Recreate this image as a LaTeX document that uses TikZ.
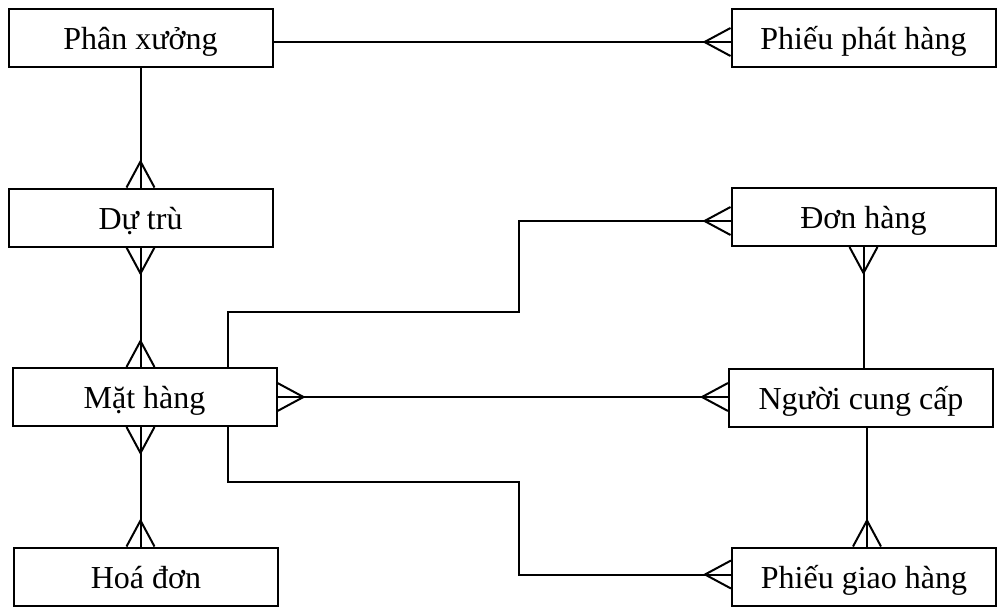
\documentclass[tikz,border=0pt]{standalone}
\usepackage{fontspec}
\setmainfont{Liberation Serif}
\usetikzlibrary{positioning}

\begin{document}
\begin{tikzpicture}[x=0.5pt, y=0.5pt, line width=1pt]
% Define styles
\tikzstyle{entity}=[rectangle, draw, minimum width=132pt, minimum height=29pt, inner sep=0pt, text height=12pt, text depth=0.5pt, font=\fontsize{16}{18}\selectfont]
\tikzset{crowfoot/.pic={\draw (0,-14) -- (26,0) -- (0,14);}}

\useasboundingbox (0,0) rectangle (1001,607);

% Entities, left column
\node[entity] (phanxuong) at (140.5,569) {Phân xưởng};
\node[entity] (dutru) at (140.5,389.5) {Dự trù};
\node[entity] (mathang) at (144.5,210) {Mặt hàng};
\node[entity] (hoadon) at (146,30.5) {Hoá đơn};

% Entities, right column
\node[entity] (phieuphat) at (863.5,569) {Phiếu phát hàng};
\node[entity] (donhang) at (863.5,390) {Đơn hàng};
\node[entity] (nguoicc) at (861,209.5) {Người cung cấp};
\node[entity] (phieugiao) at (864,30.5) {Phiếu giao hàng};

% Bend points
\coordinate (bendup) at (519,295);
\coordinate (benddown) at (519,125);

% Relationships
\draw ([yshift=-2pt]phanxuong.east) -- ([yshift=-2pt]phieuphat.west);
\draw (phanxuong.south) -- (dutru.north);
\draw (dutru.south) -- (dutru.south |- mathang.north);
\draw (dutru.south |- mathang.south) -- (dutru.south |- hoadon.north);
\draw (mathang.east) -- (mathang.east -| nguoicc.west);
\draw ([xshift=41.75pt]mathang.north) |- (bendup) |- ([yshift=-2pt]donhang.west);
\draw ([xshift=41.75pt]mathang.south) |- (benddown) |- ([yshift=1pt]phieugiao.west);
\draw (donhang.south) -- (donhang.south |- nguoicc.north);
\draw ([xshift=1.5pt]phieugiao.north) -- ([xshift=1.5pt]phieugiao.north |- nguoicc.south);

% Crow's feet
\pic[rotate=180] at ([yshift=-2pt]phieuphat.west) {crowfoot};
\pic[rotate=90] at (dutru.north) {crowfoot};
\pic[rotate=-90] at (dutru.south) {crowfoot};
\pic[rotate=90] at (dutru.south |- mathang.north) {crowfoot};
\pic[rotate=-90] at (dutru.south |- mathang.south) {crowfoot};
\pic[rotate=90] at (dutru.south |- hoadon.north) {crowfoot};
\pic at (mathang.east) {crowfoot};
\pic[rotate=180] at (mathang.east -| nguoicc.west) {crowfoot};
\pic[rotate=180] at ([yshift=-2pt]donhang.west) {crowfoot};
\pic[rotate=-90] at (donhang.south) {crowfoot};
\pic[rotate=90] at ([xshift=1.5pt]phieugiao.north) {crowfoot};
\pic[rotate=180] at ([yshift=1pt]phieugiao.west) {crowfoot};

\end{tikzpicture}
\end{document}
